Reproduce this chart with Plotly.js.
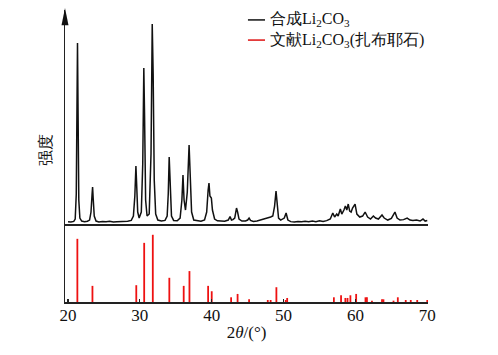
<!DOCTYPE html>
<html>
<head>
<meta charset="utf-8">
<script src="https://cdn.plot.ly/plotly-3.0.1.min.js"></script>
<style>html,body{margin:0;padding:0;background:#fff}#chart{width:498px;height:355px}</style>
</head>
<body>
<div id="chart"></div>
<script>
// Synthesised Li2CO3 measured pattern (2θ in degrees, relative intensity)
const synthTheta = [20.0,20.4,20.8,21.0,21.15,21.25,21.32,21.4,21.5,21.65,21.9,22.3,22.7,23.0,23.2,23.35,23.42,23.5,23.65,23.9,24.3,24.8,25.3,25.8,26.3,26.8,27.3,27.8,28.3,28.8,29.1,29.3,29.45,29.55,29.7,29.9,30.2,30.4,30.55,30.65,30.8,31.0,31.3,31.55,31.72,31.85,32.0,32.2,32.5,33.0,33.5,33.8,33.95,34.08,34.2,34.4,34.7,35.2,35.6,35.85,36.0,36.15,36.35,36.6,36.85,37.0,37.2,37.5,38.0,38.5,39.0,39.3,39.5,39.62,39.75,39.95,40.1,40.4,40.8,41.3,41.8,42.3,42.55,42.75,42.95,43.2,43.45,43.6,43.8,44.2,44.7,45.0,45.2,45.4,45.8,46.3,46.8,47.3,47.8,48.2,48.5,48.75,48.95,49.1,49.3,49.6,50.1,50.35,50.6,51.0,51.5,52.0,52.5,53.0,53.5,54.0,54.5,55.0,55.5,56.0,56.5,56.85,57.1,57.4,57.6,57.9,58.1,58.4,58.6,58.8,59.0,59.2,59.4,59.6,59.95,60.2,60.6,61.0,61.35,61.7,62.1,62.5,62.8,63.2,63.7,64.0,64.5,65.0,65.5,65.8,66.2,66.7,67.2,67.6,68.0,68.5,69.0,69.4,69.7,70.0];
const synthIntensity = [1.2,1.0,1.3,2.5,15,60,90.5,55,12,3,1.5,1.2,1.4,2,6,15,18.5,13,4,1.5,1.0,1.3,1.1,1.4,1.0,1.2,1.3,1.1,1.4,1.8,4,14,29,20,6,3,6,30,78,55,12,4,5,35,100,75,22,5,2,1.5,1.8,4,15,33.5,20,4,1.8,1.6,3,12,24.5,12,7,16,39.5,25,6,2,1.6,1.4,2,6,17,20.5,14,13,7,2.5,1.6,1.5,1.4,2,3.7,2,2.2,3,8,6,2.5,1.5,1.5,2,3,1.8,1.3,1.5,2,2.5,2.8,3.5,4,9,16.5,10,3,2,3,5.5,2,1.2,1.0,1.3,1.1,1.4,1.2,1.5,1.2,1.6,1.3,1.7,2.5,5.5,3.5,5,4,7.5,5,7,9,7,10,6.5,6,8,10,5,3.5,4,6,3.5,2.5,4,3,2.5,4.5,3,2,2.8,6,3,2,2.2,3,2,1.8,2,1.5,2.5,1.5,1.8];

// Reference zabuyelite (Li2CO3) stick pattern
const refTheta = [21.3,23.4,29.5,30.6,31.8,34.1,36.1,36.9,39.5,40.0,42.7,43.6,45.2,47.8,48.2,49.0,50.3,50.5,57.0,58.0,58.6,58.9,59.3,60.1,61.4,61.6,62.3,63.7,63.9,65.3,65.9,67.0,67.7,68.6,70.0];
const refIntensity = [94,24,25,88,100,36,24,46,24,16,7,12,4,3,3,22,3,6,7,10,6,6,10,12,7,7,2,4,4,2,7,3,3,3,3];

const xTicks = [20,30,40,50,60,70];
const legendNames = ['合成Li<sub>2</sub>CO<sub>3</sub>', '文献Li<sub>2</sub>CO<sub>3</sub>(扎布耶石)'];
const legendColors = ['#111111', '#dd1111'];
const axisTitleX = '2<i>θ</i>/(°)';
const axisTitleY = '强度';

const FONT = 'Liberation Serif';

// stick segments built from the reference arrays (x,x,null / 0,h,null)
const stickX = [], stickY = [];
refTheta.forEach((t, i) => { stickX.push(t, t, null); stickY.push(0, refIntensity[i], null); });

const traces = [
  {
    x: synthTheta, y: synthIntensity, type: 'scatter', mode: 'lines',
    line: {color: '#111111', width: 1.5}, xaxis: 'x2', yaxis: 'y',
    name: legendNames[0], showlegend: false, hoverinfo: 'skip'
  },
  {
    x: stickX, y: stickY, type: 'scatter', mode: 'lines', connectgaps: false,
    line: {color: '#ee1111', width: 1.8}, xaxis: 'x', yaxis: 'y2',
    name: legendNames[1], showlegend: false, hoverinfo: 'skip'
  }
];

const lowerTop = 0.267;
const legRowY = [0.966, 0.897];
const legLineX = [0.504, 0.551];
const legTextX = 0.558;

const shapes = [
  {type: 'path', xref: 'paper', yref: 'paper',
   path: 'M -0.0096 0.948 L 0.0096 0.948 L 0 1.007 Z',
   fillcolor: '#111111', line: {width: 0}}
];
const annotations = [
  {xref: 'paper', yref: 'paper', x: -0.055, y: 0.52, text: axisTitleY, textangle: -90,
   showarrow: false, font: {family: FONT, size: 16, color: '#111111'}, xanchor: 'center', yanchor: 'middle'}
];
legendNames.forEach((nm, i) => {
  shapes.push({type: 'line', xref: 'paper', yref: 'paper', x0: legLineX[0], x1: legLineX[1],
    y0: legRowY[i], y1: legRowY[i], line: {color: legendColors[i], width: 1.5}});
  annotations.push({xref: 'paper', yref: 'paper', x: legTextX, y: legRowY[i], xanchor: 'left', yanchor: 'middle',
    showarrow: false, text: nm, font: {family: FONT, size: 16, color: '#111111'}});
});

const layout = {
  width: 498, height: 355,
  margin: {l: 65, r: 70, t: 10, b: 53},
  paper_bgcolor: '#ffffff', plot_bgcolor: '#ffffff',
  font: {family: FONT, size: 17, color: '#111111'},
  showlegend: false,
  xaxis: {
    range: [19.58, 70.1], tickvals: xTicks, ticktext: xTicks.map(String),
    showline: true, linecolor: '#222222', linewidth: 1.5, mirror: false,
    ticks: 'inside', ticklen: 3, tickwidth: 1.2, tickcolor: '#222222',
    showgrid: false, zeroline: false, anchor: 'y2',
    ticklabelstandoff: -3,
    tickfont: {family: FONT, size: 17, color: '#111111'},
    title: {text: axisTitleX, font: {family: FONT, size: 17, color: '#111111'}, standoff: 2}
  },
  xaxis2: {
    matches: 'x', anchor: 'y', overlaying: 'x', showline: true, linecolor: '#222222', linewidth: 1.5,
    showticklabels: false, ticks: '', showgrid: false, zeroline: false
  },
  yaxis: {
    domain: [lowerTop, 1], range: [0, 107], showline: true, linecolor: '#222222', linewidth: 1.5,
    ticks: '', showticklabels: false, showgrid: false, zeroline: false
  },
  yaxis2: {
    domain: [0, lowerTop], range: [0, 116], showline: true, linecolor: '#222222', linewidth: 1.5,
    ticks: '', showticklabels: false, showgrid: false, zeroline: false
  },
  shapes: shapes,
  annotations: annotations
};

Plotly.newPlot('chart', traces, layout, {displayModeBar: false, staticPlot: true});
</script>
</body>
</html>
